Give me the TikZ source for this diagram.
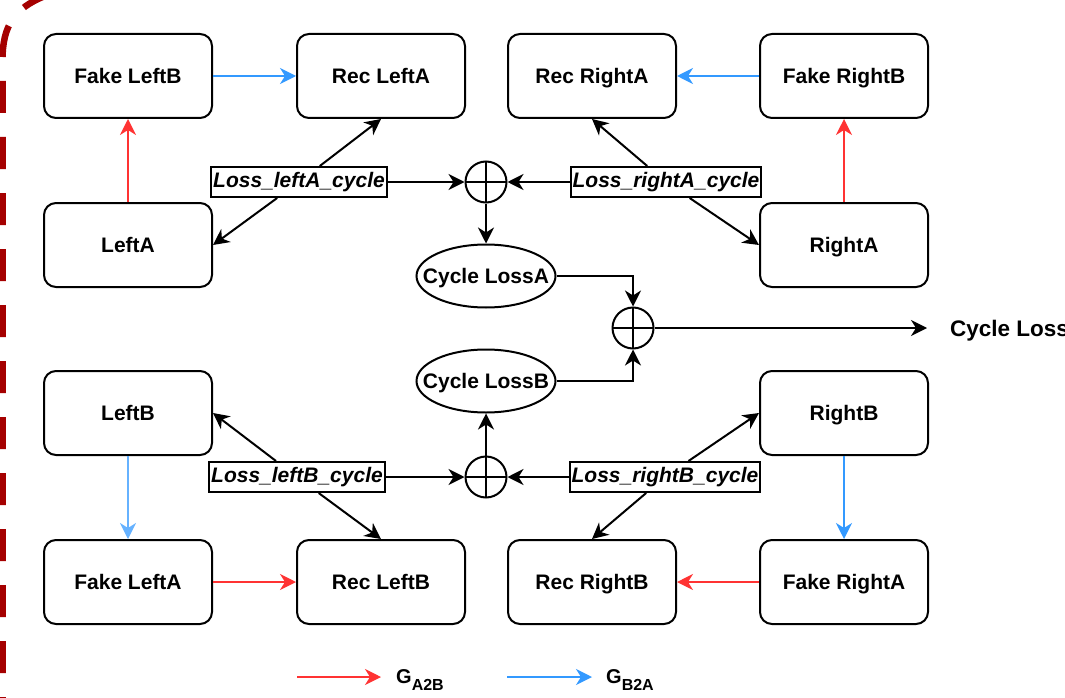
\documentclass[tikz,border=0pt]{standalone}
\usepackage{fontspec}
\setmainfont{Liberation Sans}
\usetikzlibrary{arrows.meta,shapes.geometric}
\definecolor{gred}{HTML}{FF3333}
\definecolor{gblue}{HTML}{3399FF}
\definecolor{gbluelight}{HTML}{66B2FF}
\definecolor{framered}{HTML}{A50000}

\begin{document}
\begin{tikzpicture}[x=1pt,y=-1pt,
  box/.style={draw, line width=2pt, rounded corners=12pt, minimum width=168pt,
    minimum height=84pt, inner sep=0pt, text height=15pt, text depth=0pt,
    font=\fontsize{21}{24}\selectfont\bfseries},
  losslbl/.style={draw, line width=2pt, fill=white, inner sep=2pt, minimum height=30pt,
    font=\fontsize{21}{24}\selectfont\bfseries\itshape},
  sumnode/.style={draw, circle, line width=2pt, minimum size=41pt, inner sep=0pt,
    path picture={\draw[line width=2pt]
      (path picture bounding box.north) -- (path picture bounding box.south)
      (path picture bounding box.west) -- (path picture bounding box.east);}},
  lossell/.style={draw, ellipse, line width=2pt, minimum width=139pt, minimum height=63pt,
    inner xsep=-14pt, inner ysep=0pt, text height=15pt, text depth=0pt,
    font=\fontsize{21}{24}\selectfont\bfseries},
  con/.style={line width=2pt, -{Stealth[length=16pt,width=16pt,inset=5pt]}},
  gcon/.style={line width=1.6pt, -{Stealth[length=16pt,width=16pt,inset=5pt]}},
  txt/.style={inner sep=0pt, font=\fontsize{22.5}{26}\selectfont\bfseries}
]
\useasboundingbox (0,0) rectangle (1065,698);

% dashed frame on the left
\draw[framered, line width=6.5pt, dash pattern=on 32pt off 24pt]
  (2.5,729) -- (2.5,60) .. controls (2.5,25) and (15,8) .. (45,-4) -- (1100,-4);

% image boxes
\node[box] (fakeLB) at (128,76)  {Fake LeftB};
\node[box] (recLA)  at (381,76)  {Rec LeftA};
\node[box] (recRA)  at (592,76)  {Rec RightA};
\node[box] (fakeRB) at (844,76)  {Fake RightB};
\node[box] (leftA)  at (128,245) {LeftA};
\node[box] (rightA) at (844,245) {RightA};
\node[box] (leftB)  at (128,413) {LeftB};
\node[box] (rightB) at (844,413) {RightB};
\node[box] (fakeLA) at (128,582) {Fake LeftA};
\node[box] (recLB)  at (381,582) {Rec LeftB};
\node[box] (recRB)  at (592,582) {Rec RightB};
\node[box] (fakeRA) at (844,582) {Fake RightA};

% summation nodes and losses
\node[sumnode] (sumA) at (486,182) {};
\node[sumnode] (sumB) at (486,477) {};
\node[sumnode] (sumT) at (633,328) {};
\node[lossell] (lossA) at (486,276) {Cycle LossA};
\node[lossell] (lossB) at (486,381) {Cycle LossB};

% generator arrows
\draw[gcon, gred]  (leftA)  -- (fakeLB);
\draw[gcon, gblue] (fakeLB) -- (recLA);
\draw[gcon, gblue] (fakeRB) -- (recRA);
\draw[gcon, gred]  (rightA) -- (fakeRB);
\draw[gcon, gbluelight] (leftB) -- (fakeLA);
\draw[gcon, gblue] (rightB) -- (fakeRA);
\draw[gcon, gred]  (fakeLA) -- (recLB);
\draw[gcon, gred]  (fakeRA) -- (recRB);

% cycle-loss labels and their links
\node[losslbl] (lblLA) at (299,182) {Loss\_leftA\_cycle};
\node[losslbl] (lblRA) at (666,182) {Loss\_rightA\_cycle};
\node[losslbl] (lblLB) at (297,477) {Loss\_leftB\_cycle};
\node[losslbl] (lblRB) at (665,477) {Loss\_rightB\_cycle};

\draw[con] (lblLA) -- (recLA.south);
\draw[con] (lblLA) -- (leftA.east);
\draw[con] (lblRA) -- (recRA.south);
\draw[con] (lblRA) -- (rightA.west);
\draw[con] (lblLB) -- (leftB.east);
\draw[con] (lblLB) -- (recLB.north);
\draw[con] (lblRB) -- (rightB.west);
\draw[con] (lblRB) -- (recRB.north);

\draw[con] (lblLA) -- (sumA);
\draw[con] (lblRA) -- (sumA);
\draw[con] (lblLB) -- (sumB);
\draw[con] (lblRB) -- (sumB);
\draw[con] (sumA) -- (lossA);
\draw[con] (sumB) -- (lossB);
\draw[con] (lossA.east) -| (sumT.north);
\draw[con] (lossB.east) -| (sumT.south);

% total loss output
\coordinate (outEnd) at (927,328);
\draw[con] (sumT) -- (outEnd);
\node[txt, anchor=base west] (total) at (950,336) {Cycle Loss};

% legend
\coordinate (legRa) at (297,677);
\coordinate (legRb) at (381,677);
\coordinate (legBa) at (507,677);
\coordinate (legBb) at (592,677);
\draw[gcon, gred]  (legRa) -- (legRb);
\draw[gcon, gblue] (legBa) -- (legBb);
\node[inner sep=0pt, anchor=base west, font=\fontsize{20}{22}\selectfont\bfseries] (legA2B) at (396,683)
  {G\raisebox{-7pt}{\fontsize{16}{16}\selectfont A2B}};
\node[inner sep=0pt, anchor=base west, font=\fontsize{20}{22}\selectfont\bfseries] (legB2A) at (606,683)
  {G\raisebox{-7pt}{\fontsize{16}{16}\selectfont B2A}};
\end{tikzpicture}
\end{document}
